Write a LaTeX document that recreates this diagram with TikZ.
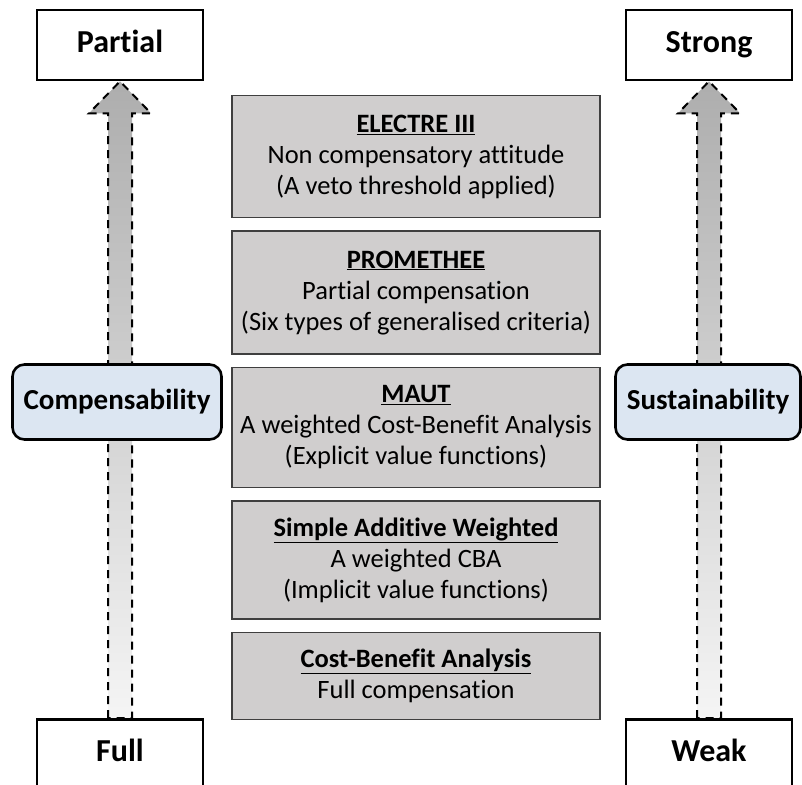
\documentclass[tikz,border=0pt]{standalone}
\usepackage{fontspec}
\setmainfont{Carlito}[Ligatures=NoCommon]
\usetikzlibrary{positioning,calc}
\definecolor{boxgray}{HTML}{D0CECE}
\definecolor{paleblue}{HTML}{DCE6F2}
\definecolor{edge}{HTML}{3F3F3F}

\begin{document}
\begin{tikzpicture}[x=1pt,y=-1pt,node distance=12pt]
  \tikzstyle{method}=[draw=edge,line width=1.4pt,fill=boxgray,minimum width=368pt,align=center,inner sep=2pt,font=\fontsize{26.5}{31}\selectfont]
  \tikzstyle{pole}=[draw=black,line width=2.6pt,fill=white,minimum width=166pt,minimum height=70pt,text height=22pt,text depth=7pt,font=\bfseries\fontsize{32}{36}\selectfont]
  \tikzstyle{criterion}=[draw=black,line width=2.6pt,fill=paleblue,rounded corners=12pt,minimum height=75pt,inner sep=2pt,font=\bfseries\fontsize{29}{33}\selectfont]
  \tikzstyle{axis}=[draw=black,line width=2pt,dash pattern=on 8pt off 6pt,top color=black!32,bottom color=black!4]
  \useasboundingbox (0,0) rectangle (802,784);
  % poles of the two scales
  \node[pole] (partial) at (120,45) {Partial};
  \node[pole,anchor=north] (full) at (120,718) {Full};
  \node[pole] (strong) at (709,45) {Strong};
  \node[pole,anchor=north] (weak) at (709,718) {Weak};
  % dashed scale arrows
  \shadedraw[axis] ($(full.north)+(-12,0)$) -- ($(partial.south)+(-12,32)$) -- ($(partial.south)+(-31,32)$)
    -- (partial.south) -- ($(partial.south)+(31,32)$) -- ($(partial.south)+(12,32)$) -- ($(full.north)+(12,0)$) -- cycle;
  \shadedraw[axis] ($(weak.north)+(-12,0)$) -- ($(strong.south)+(-12,32)$) -- ($(strong.south)+(-31,32)$)
    -- (strong.south) -- ($(strong.south)+(31,32)$) -- ($(strong.south)+(12,32)$) -- ($(weak.north)+(12,0)$) -- cycle;
  \node[pole] at (full) {Full};
  \node[pole] at (weak) {Weak};
  % scale names
  \node[criterion,minimum width=209pt] (comp) at (117,402) {Compensability};
  \node[criterion,minimum width=185pt] (sust) at (708,402) {Sustainability};
  % methods, from non compensatory to full compensation
  \node[method,anchor=north,minimum height=122pt] (electre) at (416,95) {\underline{\textbf{ELECTRE III}}\\Non compensatory attitude\\(A veto threshold applied)};
  \node[method,minimum height=123pt,below=of electre] (promethee) {\underline{\textbf{PROMETHEE}}\\Partial compensation\\(Six types of generalised criteria)};
  \node[method,minimum height=120pt,below=of promethee] (maut) {\underline{\textbf{MAUT}}\\A weighted Cost-Benefit Analysis\\(Explicit value functions)};
  \node[method,minimum height=118pt,below=of maut] (saw) {\underline{\textbf{Simple Additive Weighted}}\\A weighted CBA\\(Implicit value functions)};
  \node[method,minimum height=87pt,below=of saw] (cba) {\underline{\textbf{Cost-Benefit Analysis}}\\Full compensation};
\end{tikzpicture}
\end{document}
